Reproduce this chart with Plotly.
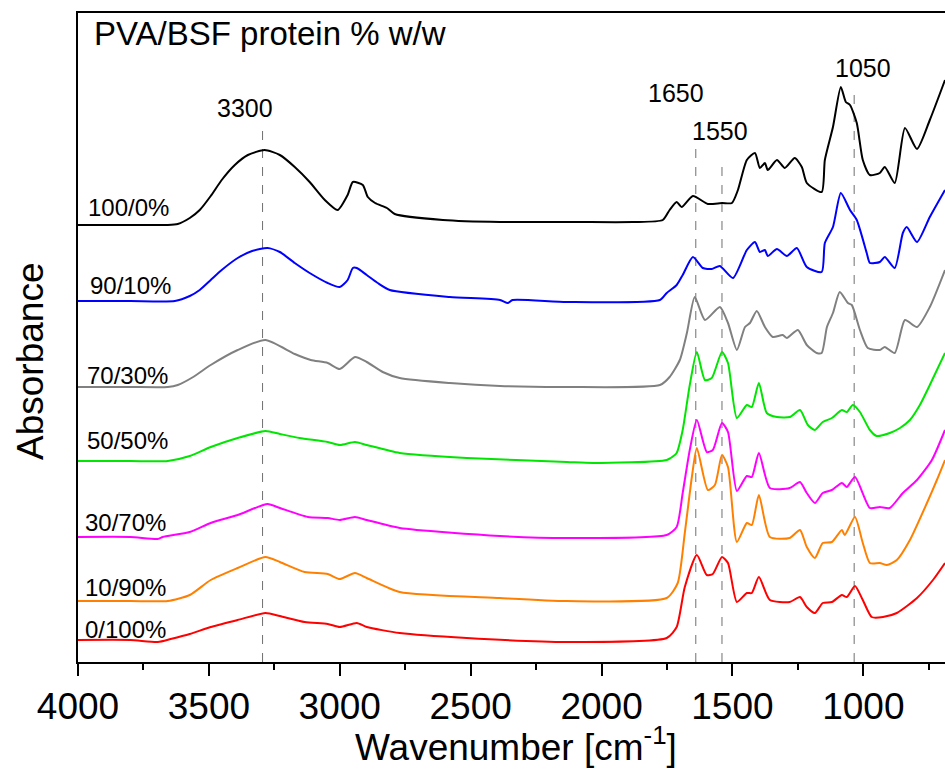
import plotly.graph_objects as go

# ---------------- data ----------------
labels = ["100/0%", "90/10%", "70/30%", "50/50%", "30/70%", "10/90%", "0/100%"]
colors = ["#000000", "#0000FF", "#808080", "#00E600", "#FF00FF", "#FF8000", "#FF0000"]

wn_100_0 = [4000, 3800, 3657, 3619, 3573, 3535, 3493, 3451, 3401, 3351, 3287, 3229, 3172, 3115, 3057, 3008,
            2970, 2950, 2912, 2893, 2865, 2820, 2790, 2606, 2388, 2100, 1880, 1766, 1740, 1713, 1694, 1651,
            1594, 1540, 1502, 1479, 1445, 1414, 1395, 1376, 1365, 1330, 1300, 1262, 1235, 1216, 1159, 1147,
            1116, 1086, 1067, 1051, 1025, 1002, 975, 937, 918, 880, 841, 795, 746, 688]
ab_100_0 = [4.37, 4.37, 4.37, 4.38, 4.44, 4.52, 4.66, 4.82, 4.97, 5.07, 5.12, 5.07, 4.95, 4.80, 4.62, 4.52,
            4.67, 4.80, 4.77, 4.65, 4.59, 4.54, 4.48, 4.42, 4.40, 4.40, 4.40, 4.42, 4.52, 4.60, 4.55, 4.66,
            4.58, 4.59, 4.59, 4.72, 5.02, 5.09, 4.94, 4.99, 4.92, 5.02, 4.94, 5.04, 4.95, 4.79, 4.70, 5.02,
            5.35, 5.75, 5.60, 5.57, 5.39, 5.02, 4.87, 4.89, 4.95, 4.79, 5.34, 5.13, 5.42, 5.82]

wn_90_10 = [4000, 3800, 3630, 3573, 3535, 3493, 3451, 3390, 3335, 3276, 3229, 3172, 3115, 3046, 3000, 2970,
            2950, 2935, 2897, 2855, 2809, 2580, 2388, 2358, 2340, 2132, 1777, 1751, 1713, 1690, 1651, 1613,
            1579, 1548, 1498, 1445, 1414, 1395, 1376, 1365, 1330, 1292, 1254, 1216, 1159, 1147, 1116, 1086,
            1051, 1025, 987, 975, 937, 918, 880, 849, 834, 795, 746, 688]
ab_90_10 = [3.61, 3.61, 3.61, 3.66, 3.72, 3.82, 3.92, 4.04, 4.11, 4.14, 4.10, 3.99, 3.89, 3.79, 3.75, 3.82,
            3.94, 3.94, 3.87, 3.79, 3.72, 3.65, 3.62, 3.59, 3.62, 3.60, 3.62, 3.69, 3.77, 3.87, 4.05, 3.94,
            3.93, 3.96, 3.84, 4.12, 4.20, 4.10, 4.12, 4.06, 4.13, 4.06, 4.14, 3.95, 3.90, 4.19, 4.35, 4.69,
            4.52, 4.42, 4.09, 3.99, 4.00, 4.05, 3.94, 4.29, 4.35, 4.20, 4.45, 4.72]

wn_70_30 = [4000, 3800, 3657, 3619, 3560, 3493, 3390, 3284, 3172, 3111, 3046, 3000, 2942, 2897, 2836, 2771,
            2580, 2388, 2132, 1777, 1740, 1701, 1674, 1644, 1605, 1548, 1517, 1483, 1452, 1433, 1407, 1376,
            1346, 1308, 1292, 1250, 1216, 1178, 1159, 1139, 1116, 1090, 1059, 1044, 1013, 983, 937, 918,
            880, 841, 795, 746, 688]
ab_70_30 = [2.75, 2.75, 2.75, 2.77, 2.85, 2.97, 3.12, 3.22, 3.08, 3.02, 2.99, 2.93, 3.05, 3.00, 2.90, 2.84,
            2.79, 2.76, 2.75, 2.77, 2.85, 3.02, 3.29, 3.65, 3.42, 3.55, 3.39, 3.12, 3.35, 3.39, 3.51, 3.35,
            3.25, 3.27, 3.24, 3.32, 3.17, 3.09, 3.09, 3.35, 3.49, 3.70, 3.59, 3.57, 3.32, 3.14, 3.12, 3.15,
            3.09, 3.42, 3.35, 3.55, 3.92]

wn_50_50 = [4000, 3800, 3657, 3573, 3493, 3390, 3284, 3229, 3153, 3046, 3000, 2942, 2897, 2771, 2515, 2132,
            2033, 1751, 1720, 1713, 1690, 1663, 1636, 1605, 1579, 1540, 1517, 1483, 1445, 1426, 1399, 1369,
            1330, 1281, 1242, 1212, 1185, 1155, 1120, 1082, 1063, 1040, 1013, 975, 949, 899, 860, 822,
            784, 746, 688]
ab_50_50 = [2.01, 2.01, 2.01, 2.06, 2.15, 2.24, 2.31, 2.28, 2.24, 2.20, 2.17, 2.20, 2.17, 2.09, 2.04, 2.00,
            1.99, 2.02, 2.07, 2.09, 2.32, 2.77, 3.10, 2.82, 2.84, 3.10, 2.99, 2.44, 2.57, 2.55, 2.79, 2.49,
            2.45, 2.45, 2.52, 2.37, 2.32, 2.40, 2.44, 2.52, 2.50, 2.57, 2.50, 2.32, 2.26, 2.29, 2.34, 2.42,
            2.57, 2.77, 3.09]

wn_30_70 = [4000, 3800, 3695, 3676, 3573, 3493, 3390, 3276, 3229, 3122, 3046, 3000, 2942, 2897, 2771, 2388,
            2132, 1751, 1713, 1690, 1663, 1636, 1598, 1575, 1540, 1517, 1483, 1445, 1426, 1399, 1357, 1281,
            1242, 1216, 1185, 1155, 1120, 1082, 1063, 1032, 975, 937, 899, 849, 795, 738, 688]
ab_30_70 = [1.25, 1.25, 1.23, 1.25, 1.30, 1.39, 1.47, 1.58, 1.54, 1.45, 1.44, 1.42, 1.45, 1.42, 1.34, 1.26,
            1.24, 1.27, 1.35, 1.69, 2.12, 2.42, 2.10, 2.12, 2.39, 2.30, 1.71, 1.86, 1.85, 2.09, 1.74, 1.74,
            1.80, 1.69, 1.59, 1.69, 1.72, 1.79, 1.75, 1.85, 1.54, 1.55, 1.54, 1.69, 1.82, 2.02, 2.32]

wn_10_90 = [4000, 3800, 3657, 3573, 3493, 3390, 3284, 3229, 3134, 3046, 3000, 2942, 2897, 2771, 2388, 2132,
            1751, 1709, 1682, 1655, 1636, 1594, 1567, 1540, 1517, 1483, 1445, 1426, 1399, 1357, 1281, 1242,
            1216, 1185, 1155, 1120, 1082, 1071, 1032, 1002, 975, 937, 910, 872, 822, 757, 719, 688]
ab_10_90 = [0.61, 0.61, 0.61, 0.67, 0.82, 0.94, 1.05, 1.00, 0.90, 0.88, 0.83, 0.89, 0.84, 0.70, 0.64, 0.61,
            0.64, 0.79, 1.29, 1.85, 2.14, 1.72, 1.77, 2.07, 1.95, 1.20, 1.39, 1.37, 1.67, 1.25, 1.24, 1.32,
            1.15, 1.04, 1.19, 1.20, 1.32, 1.27, 1.45, 1.19, 0.99, 0.99, 0.97, 1.02, 1.22, 1.59, 1.82, 2.02]

wn_0_100 = [4000, 3800, 3695, 3646, 3573, 3493, 3390, 3284, 3229, 3134, 3046, 3000, 2935, 2897, 2771, 2515,
            2132, 1751, 1713, 1682, 1636, 1598, 1575, 1540, 1517, 1483, 1445, 1426, 1399, 1357, 1281, 1242,
            1216, 1185, 1155, 1120, 1082, 1063, 1032, 1002, 968, 925, 872, 795, 734, 688]
ab_0_100 = [0.22, 0.22, 0.20, 0.23, 0.28, 0.35, 0.42, 0.49, 0.46, 0.40, 0.38, 0.35, 0.39, 0.35, 0.29, 0.24,
            0.20, 0.24, 0.35, 0.75, 1.07, 0.87, 0.88, 1.05, 0.99, 0.60, 0.69, 0.69, 0.85, 0.62, 0.60, 0.65,
            0.55, 0.49, 0.59, 0.60, 0.67, 0.65, 0.76, 0.62, 0.45, 0.45, 0.49, 0.64, 0.82, 0.99]

wavenumbers = [wn_100_0, wn_90_10, wn_70_30, wn_50_50, wn_30_70, wn_10_90, wn_0_100]
absorbances = [ab_100_0, ab_90_10, ab_70_30, ab_50_50, ab_30_70, ab_10_90, ab_0_100]

# marker bands: label text, actual line position, top of dashed line
band_labels = ["3300", "1650", "1550", "1050"]
band_positions = [3295, 1640, 1540, 1035]
band_tops = [5.40, 5.19, 5.04, 5.74]

x_ticks = [4000, 3500, 3000, 2500, 2000, 1500, 1000]
x_range = [4000, 688]

# ---------------- figure ----------------
FONT = "Liberation Sans, Arial, sans-serif"
fig = go.Figure()

for wn, ab, col, lab in zip(wavenumbers, absorbances, colors, labels):
    fig.add_trace(go.Scatter(x=wn, y=ab, mode="lines", name=lab,
                             line=dict(color=col, width=2, shape="spline", smoothing=0.6),
                             showlegend=False))

# dashed band markers
for pos, top in zip(band_positions, band_tops):
    fig.add_shape(type="line", xref="x", yref="y", x0=pos, x1=pos, y0=0, y1=top,
                  line=dict(color="#707070", width=1, dash="dash"), layer="below")

# band labels
band_label_xy = [(3361, 5.54), (1716, 5.69), (1548, 5.31), (1001, 5.94)]
for txt, (bx, by) in zip(band_labels, band_label_xy):
    fig.add_annotation(x=bx, y=by, xref="x", yref="y", text=txt, showarrow=False,
                       font=dict(family=FONT, size=25, color="#000000"),
                       xanchor="center", yanchor="middle")

# series labels
series_label_pos = [(3970, 4.55), (3963, 3.77), (3974, 2.87), (3974, 2.22),
                    (3982, 1.40), (3982, 0.75), (3982, 0.33)]
for lab, (lx, ly) in zip(labels, series_label_pos):
    fig.add_annotation(x=lx, y=ly, xref="x", yref="y", text=lab, showarrow=False,
                       font=dict(family=FONT, size=24, color="#000000"),
                       xanchor="left", yanchor="middle")

# header
fig.add_annotation(x=3948, y=6.29, xref="x", yref="y", text="PVA/BSF protein % w/w",
                   showarrow=False, font=dict(family=FONT, size=33, color="#000000"),
                   xanchor="left", yanchor="middle")

# axis titles, positioned like the reference
fig.add_annotation(x=-48 / 867, y=300 / 649, xref="paper", yref="paper", text="Absorbance",
                   showarrow=False, textangle=-90,
                   font=dict(family=FONT, size=37, color="#000000"),
                   xanchor="center", yanchor="middle")
fig.add_annotation(x=438 / 867, y=-83 / 649, xref="paper", yref="paper",
                   text="Wavenumber [cm<sup>-1</sup>]", showarrow=False,
                   font=dict(family=FONT, size=37, color="#000000"),
                   xanchor="center", yanchor="middle")

fig.update_layout(
    width=945, height=769,
    margin=dict(l=78, r=0, t=13, b=107),
    paper_bgcolor="white", plot_bgcolor="white",
    font=dict(family=FONT, color="#000000"),
    # labelled axis (no tick marks of its own)
    xaxis=dict(range=x_range, tickvals=x_ticks, ticks="", showline=True, linewidth=2,
               linecolor="#000000", mirror=True, showgrid=False, zeroline=False,
               tickfont=dict(family=FONT, size=37, color="#000000"),
               ticklabelstandoff=11),
    # overlay axis carrying the major / minor tick marks
    xaxis2=dict(range=x_range, overlaying="x", anchor="y", side="bottom",
                tickvals=x_ticks, ticks="outside", ticklen=13, tickwidth=2, tickcolor="#000000",
                showticklabels=False, showline=False, showgrid=False, zeroline=False,
                minor=dict(ticks="outside", ticklen=7, tickwidth=2, tickcolor="#000000",
                           dtick=250, tick0=0, showgrid=False)),
    yaxis=dict(range=[0, 6.49], showticklabels=False, ticks="", showline=True, linewidth=2,
               linecolor="#000000", mirror=False, showgrid=False, zeroline=False),
)

# an invisible trace on the overlay axis so that it is drawn
fig.add_trace(go.Scatter(x=[x_ticks[0]], y=[0], xaxis="x2", yaxis="y", mode="markers",
                         marker=dict(opacity=0), hoverinfo="skip", showlegend=False))

# remove the default page margin so the 945x769 figure fills the window exactly
fig.write_html("out.html", config={"displayModeBar": False},
               post_script="document.body.style.margin='0';document.body.style.overflow='hidden';")
